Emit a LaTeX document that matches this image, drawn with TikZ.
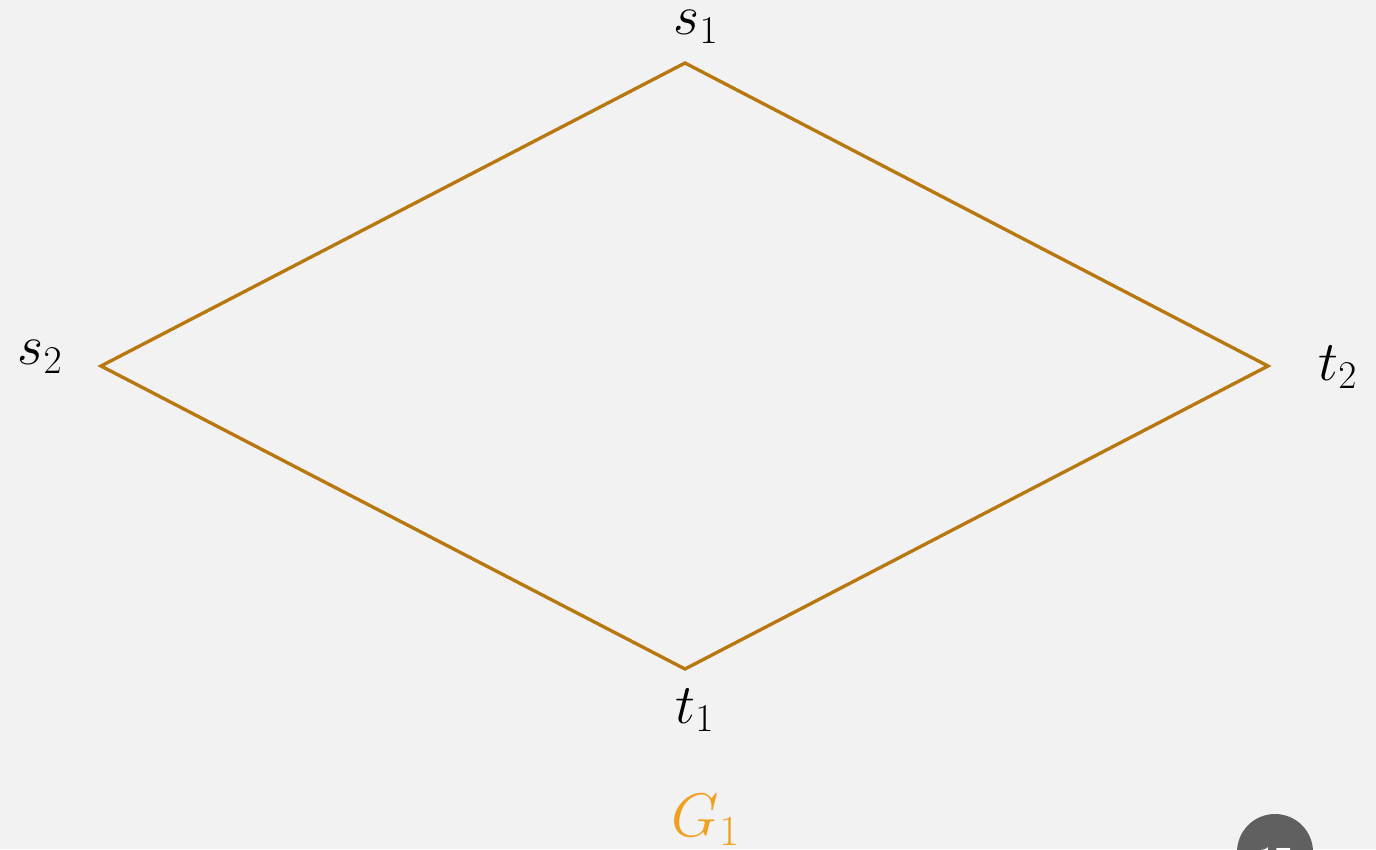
\RequirePackage{fix-cm}
\documentclass[tikz,border=0pt]{standalone}
\usepackage{fontspec}
\definecolor{bg}{HTML}{F2F2F2}
\definecolor{edgec}{HTML}{B8770F}
\definecolor{gcol}{HTML}{F0A020}
\definecolor{badge}{HTML}{606060}
\begin{document}
\begin{tikzpicture}[x=0.02cm,y=-0.02cm,
  lbl/.style={font=\fontsize{32}{38}\selectfont,inner sep=0pt},
  edge/.style={draw=edgec,line width=1.9pt,line join=miter}]
\clip (0,0) rectangle (1376,849);
\fill[bg] (0,0) rectangle (1376,849);
\useasboundingbox (0,0) rectangle (1376,849);
\coordinate (s1) at (685,63);
\coordinate (s2) at (101,366);
\coordinate (t2) at (1268,366);
\coordinate (t1) at (685,669);
\draw[edge] (s1) -- (t2) -- (t1) -- (s2) -- cycle;
\node[lbl] (ls1) at (696,27) {$s_1$};
\node[lbl] (ls2) at (40,357) {$s_2$};
\node[lbl] (lt2) at (1338,367) {$t_2$};
\node[lbl] (lt1) at (695,710) {$t_1$};
\node[font=\fontsize{35}{42}\selectfont,text=gcol,inner sep=0pt] (g1) at (706,820) {$G_1$};
\fill[badge] (1275,852) circle (38);
\node[text=white,font=\sffamily\fontsize{20}{24}\selectfont] (num) at (1275,860) {17};
\end{tikzpicture}
\end{document}
